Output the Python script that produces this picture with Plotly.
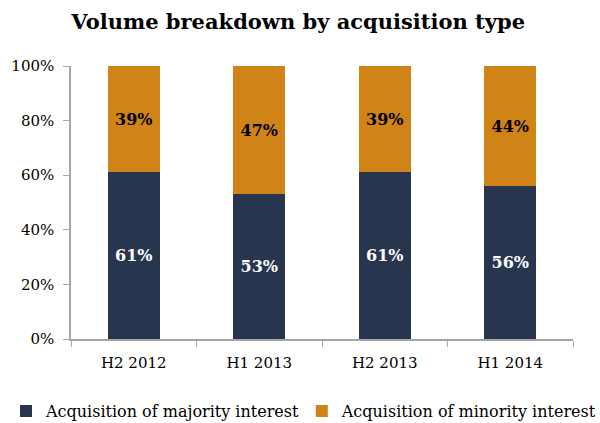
import plotly.graph_objects as go

categories = ["H2 2012", "H1 2013", "H2 2013", "H1 2014"]
majority = [61, 53, 61, 56]
minority = [39, 47, 39, 44]
tick_vals = [0, 20, 40, 60, 80, 100]
tick_text = ["0%", "20%", "40%", "60%", "80%", "100%"]

FONT = "Georgia, 'DejaVu Serif', serif"
NAVY = "#28354f"
ORANGE = "#d08418"

fig = go.Figure()
fig.add_trace(go.Bar(
    name="Acquisition of majority interest", x=categories, y=majority,
    marker=dict(color=NAVY, line=dict(width=0)),
    text=[f"{v}%" for v in majority], textposition="inside",
    insidetextanchor="middle",
    textfont=dict(family=FONT, size=16, color="white", weight="bold"),
    legend="legend",
))
fig.add_trace(go.Bar(
    name="Acquisition of minority interest", x=categories, y=minority,
    marker=dict(color=ORANGE, line=dict(width=0)),
    text=[f"{v}%" for v in minority], textposition="inside",
    insidetextanchor="middle",
    textfont=dict(family=FONT, size=16, color="black", weight="bold"),
    legend="legend2",
))

legend_common = dict(orientation="h", xref="container", xanchor="left",
                     yref="container", y=0.028, yanchor="middle",
                     font=dict(family=FONT, size=16, color="black"),
                     itemwidth=30, bgcolor="rgba(0,0,0,0)")

fig.update_layout(
    barmode="stack", bargap=0.585,
    width=600, height=423,
    margin=dict(l=71, r=27, t=66, b=84, autoexpand=False),
    paper_bgcolor="white", plot_bgcolor="white",
    font=dict(family=FONT, size=15, color="black"),
    title=dict(text="<b>Volume breakdown by acquisition type</b>",
               xref="container", x=0.497, xanchor="center",
               yref="container", y=0.948, yanchor="middle",
               font=dict(family=FONT, size=21, color="black")),
    showlegend=True,
    legend=dict(x=0.01, **legend_common),
    legend2=dict(x=0.503, **legend_common),
    uniformtext=dict(mode=False),
)
fig.update_xaxes(
    showline=True, linecolor="#a6a6a6", linewidth=1.5,
    ticks="outside", tickson="boundaries", ticklen=6, tickcolor="#a6a6a6",
    tickfont=dict(family=FONT, size=15, color="black"),
    ticklabelstandoff=9,
    showgrid=False,
)
fig.update_yaxes(
    range=[0, 100], tickvals=tick_vals, ticktext=tick_text,
    showline=True, linecolor="#a6a6a6", linewidth=1.5,
    ticks="outside", ticklen=6, tickcolor="#a6a6a6",
    tickfont=dict(family=FONT, size=15, color="black"),
    ticklabelstandoff=6,
    showgrid=False, zeroline=False,
)

fig.write_html("out.html")
